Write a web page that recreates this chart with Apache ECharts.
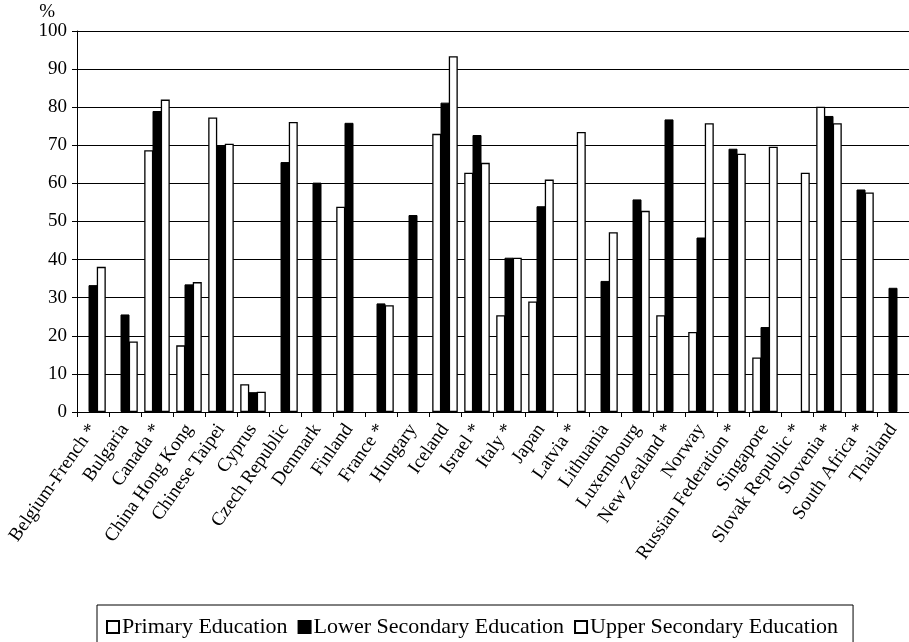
<!DOCTYPE html>
<html>
<head>
<meta charset="utf-8">
<script src="https://cdn.jsdelivr.net/npm/echarts@6/dist/echarts.min.js"></script>
<style>
  html, body { margin: 0; padding: 0; background: #fff; }
  #chart { width: 909px; height: 642px; }
</style>
</head>
<body>
<div id="chart"></div>
<script>
const countries = ["Belgium-French *", "Bulgaria", "Canada *", "China Hong Kong", "Chinese Taipei", "Cyprus",
    "Czech Republic", "Denmark", "Finland", "France *", "Hungary", "Iceland", "Israel *", "Italy *", "Japan",
    "Latvia *", "Lithuania", "Luxembourg", "New Zealand *", "Norway", "Russian Federation *", "Singapore",
    "Slovak Republic *", "Slovenia *", "South Africa *", "Thailand"]

// '-' = no bar for that country
const primary = ['-', '-', 68.7, 17.5, 77.3, 7.3, '-', '-', 53.9, '-', '-', 73, 62.8, 25.4, 29,
    '-', '-', '-', 25.4, 21, '-', 14.3, '-', 80.1, '-', '-']
const lowerSecondary = [33.3, 25.6, 79, 33.5, 69.8, 5.2, 65.6, 60.2, 75.9, 28.5, 51.7, 81.2, 72.7, 40.5, 54,
    '-', 34.4, 55.8, 76.8, 45.8, 69.1, 22.3, '-', 77.7, 58.4, 32.6]
const upperSecondary = [38.1, 18.5, 82, 34.1, 70.4, 5.3, 76.1, '-', '-', 28, '-', 93.4, 65.4, 40.5, 61,
    73.5, 47.2, 52.8, '-', 75.8, 67.8, 69.6, 62.8, 75.8, 57.6, '-']

const yTicks = { min: 0, max: 100, step: 10 }
const font = 'Liberation Serif, Times New Roman, serif'

var myChart = echarts.init(document.getElementById('chart'))

var whiteBar = { color: '#ffffff', borderColor: '#000', borderWidth: 1.3 }
var blackBar = { color: '#000000', borderColor: '#000', borderWidth: 1 }

var option = {
    animation: false,
    backgroundColor: '#ffffff',
    textStyle: { fontFamily: font, color: '#000' },
    grid: { left: 77, right: -10, top: 31, bottom: 230 },
    legend: {
        left: 97,
        top: 605,
        borderColor: '#000',
        borderWidth: 1,
        padding: [11, 15, 18, 9],
        itemGap: 10,
        itemWidth: 12,
        itemHeight: 12,
        icon: 'rect',
        textStyle: { fontFamily: font, fontSize: 22, color: '#000', padding: [0, 0, 0, -2] },
        data: ['Primary Education', 'Lower Secondary Education', 'Upper Secondary Education']
    },
    xAxis: {
        type: 'category',
        data: countries,
        axisLine: { lineStyle: { color: '#000', width: 1 } },
        axisTick: { show: true, length: 5, lineStyle: { color: '#000' } },
        axisLabel: {
            interval: 0,
            rotate: 55,
            margin: 14,
            fontFamily: font,
            fontSize: 19,
            color: '#000'
        }
    },
    yAxis: {
        type: 'value',
        min: yTicks.min,
        max: yTicks.max,
        interval: yTicks.step,
        name: '%',
        nameLocation: 'end',
        nameGap: 4,
        nameTextStyle: { fontFamily: font, fontSize: 19, color: '#000', align: 'right', padding: [0, 22, -4, 0] },
        axisLine: { show: true, lineStyle: { color: '#000', width: 1 } },
        axisTick: { show: true, length: 5, lineStyle: { color: '#000' } },
        axisLabel: { fontFamily: font, fontSize: 19, color: '#000', margin: 10 },
        splitLine: { lineStyle: { type: 'solid', color: '#000', width: 1 } }
    },
    series: [{
        name: 'Primary Education',
        type: 'bar',
        data: primary,
        barWidth: 9,
        barGap: '-8%',
        itemStyle: whiteBar
    }, {
        name: 'Lower Secondary Education',
        type: 'bar',
        data: lowerSecondary,
        barWidth: 9,
        barGap: '-8%',
        itemStyle: blackBar
    }, {
        name: 'Upper Secondary Education',
        type: 'bar',
        data: upperSecondary,
        barWidth: 9,
        barGap: '-8%',
        itemStyle: whiteBar
    }]
}
myChart.setOption(option)
</script>
</body>
</html>
